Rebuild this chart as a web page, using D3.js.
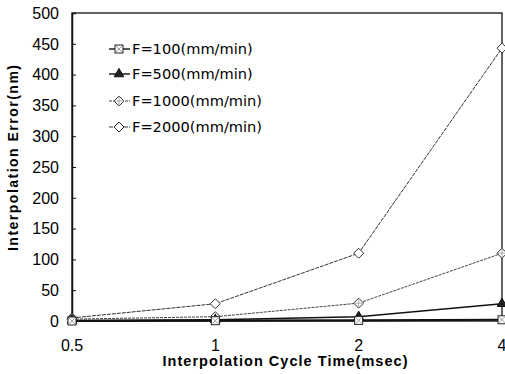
<!DOCTYPE html>
<html>
<head>
<meta charset="utf-8">
<script src="https://cdn.jsdelivr.net/npm/d3@7"></script>
<style>
  body { margin: 0; background: #fff; }
  svg text { font-family: "Liberation Sans", Arial, sans-serif; fill: #000; }
</style>
</head>
<body>
<div id="chart"></div>
<script>
const CYCLE_TIMES = ["0.5", "1", "2", "4"];
const Y_TICKS = [0, 50, 100, 150, 200, 250, 300, 350, 400, 450, 500];
const SERIES_NAMES = ["F=100(mm/min)", "F=500(mm/min)", "F=1000(mm/min)", "F=2000(mm/min)"];
const F100 = [0, 0.5, 1, 2];
const F500 = [1, 2, 7, 28];
const F1000 = [3, 7, 29, 110];
const F2000 = [5, 28, 110, 443];

const WIDTH = 505, HEIGHT = 374;
const MARGINS = { top: 13, right: 3, bottom: 53, left: 72 };

const svg = d3.select("#chart").append("svg")
    .attr("width", WIDTH)
    .attr("height", HEIGHT);

const x = d3.scalePoint()
    .domain(CYCLE_TIMES)
    .range([MARGINS.left, WIDTH - MARGINS.right]);

const y = d3.scaleLinear()
    .domain([0, 500])
    .range([HEIGHT - MARGINS.bottom, MARGINS.top]);

// frame
svg.append("rect")
    .attr("x", MARGINS.left)
    .attr("y", MARGINS.top)
    .attr("width", WIDTH - MARGINS.right - MARGINS.left)
    .attr("height", HEIGHT - MARGINS.bottom - MARGINS.top)
    .attr("fill", "none")
    .attr("stroke", "#111")
    .attr("stroke-width", 1.3);

// y axis (ticks pointing inward)
const yAxis = svg.append("g")
    .attr("transform", "translate(" + MARGINS.left + ",0)")
    .call(d3.axisRight(y).tickValues(Y_TICKS).tickSize(4).tickFormat(""));
yAxis.select(".domain").attr("stroke", "#111").attr("stroke-width", 1.5);
yAxis.selectAll("line").attr("stroke", "#111");

svg.append("g")
    .selectAll("text")
    .data(Y_TICKS)
    .enter()
    .append("text")
    .attr("x", MARGINS.left - 13)
    .attr("y", d => y(d))
    .attr("dy", "0.36em")
    .attr("text-anchor", "end")
    .attr("font-size", 16)
    .text(d => d);

// x tick labels
svg.append("g")
    .selectAll("text")
    .data(CYCLE_TIMES)
    .enter()
    .append("text")
    .attr("x", d => x(d))
    .attr("y", HEIGHT - MARGINS.bottom + 30)
    .attr("text-anchor", "middle")
    .attr("font-size", 16)
    .text(d => d);

// axis titles
svg.append("text")
    .attr("x", 285)
    .attr("y", 366)
    .attr("text-anchor", "middle")
    .attr("font-size", 14.5)
    .attr("font-weight", "bold")
    .attr("textLength", 245)
    .attr("lengthAdjust", "spacing")
    .text("Interpolation Cycle Time(msec)");

svg.append("text")
    .attr("transform", "translate(18,158) rotate(-90)")
    .attr("text-anchor", "middle")
    .attr("font-size", 14)
    .attr("font-weight", "bold")
    .attr("textLength", 186)
    .attr("lengthAdjust", "spacing")
    .text("Interpolation Error(nm)");

const seriesData = [F100, F500, F1000, F2000];
const styles = [
    { stroke: "#111", width: 2.2, dash: null, marker: "squareX" },
    { stroke: "#111", width: 1.4, dash: null, marker: "triangle" },
    { stroke: "#444", width: 1, dash: "3,1", marker: "diamondX" },
    { stroke: "#333", width: 1, dash: "4,1", marker: "diamond" }
];

const line = d3.line()
    .x((d, i) => x(CYCLE_TIMES[i]))
    .y(d => y(d));

function drawMarker(g, kind, cx, cy) {
    if (kind === "squareX") {
        g.append("rect").attr("x", cx - 4).attr("y", cy - 4).attr("width", 8).attr("height", 8)
            .attr("fill", "#fff").attr("stroke", "#222").attr("stroke-width", 1);
        g.append("path").attr("d", `M${cx - 3},${cy - 3}L${cx + 3},${cy + 3}M${cx + 3},${cy - 3}L${cx - 3},${cy + 3}`)
            .attr("stroke", "#888").attr("stroke-width", 0.8);
    } else if (kind === "triangle") {
        g.append("path").attr("d", d3.symbol(d3.symbolTriangle, 40)())
            .attr("transform", `translate(${cx},${cy})`)
            .attr("fill", "#222").attr("stroke", "#111");
    } else if (kind === "diamondX") {
        g.append("path").attr("d", `M${cx},${cy - 5}L${cx + 5},${cy}L${cx},${cy + 5}L${cx - 5},${cy}Z`)
            .attr("fill", "#fff").attr("stroke", "#333").attr("stroke-width", 1);
        g.append("path").attr("d", `M${cx - 5},${cy}L${cx + 5},${cy}M${cx},${cy - 5}L${cx},${cy + 5}`)
            .attr("stroke", "#999").attr("stroke-width", 0.8);
    } else {
        g.append("path").attr("d", `M${cx},${cy - 5}L${cx + 5},${cy}L${cx},${cy + 5}L${cx - 5},${cy}Z`)
            .attr("fill", "#fff").attr("stroke", "#333").attr("stroke-width", 1);
    }
}

// draw back to front so F=100 sits on top
for (let s = seriesData.length - 1; s >= 0; s--) {
    const st = styles[s];
    svg.append("path")
        .datum(seriesData[s])
        .attr("d", line)
        .attr("fill", "none")
        .attr("stroke", st.stroke)
        .attr("stroke-width", st.width)
        .attr("stroke-dasharray", st.dash);
    const mg = svg.append("g");
    seriesData[s].forEach((v, i) => drawMarker(mg, st.marker, x(CYCLE_TIMES[i]), y(v)));
}

// legend
const LEGEND_Y = [49, 74, 101, 127];
const legend = svg.append("g");
SERIES_NAMES.forEach((name, i) => {
    const st = styles[i];
    legend.append("line")
        .attr("x1", 109).attr("x2", 130)
        .attr("y1", LEGEND_Y[i]).attr("y2", LEGEND_Y[i])
        .attr("stroke", st.stroke)
        .attr("stroke-width", Math.min(st.width, 1.4))
        .attr("stroke-dasharray", st.dash);
    drawMarker(legend, st.marker, 119, LEGEND_Y[i]);
    legend.append("text")
        .attr("x", 132)
        .attr("y", LEGEND_Y[i])
        .attr("dy", "0.36em")
        .style("font-family", "'DejaVu Sans', sans-serif")
        .attr("font-size", 14.6)
        .text(name);
});
</script>
</body>
</html>
